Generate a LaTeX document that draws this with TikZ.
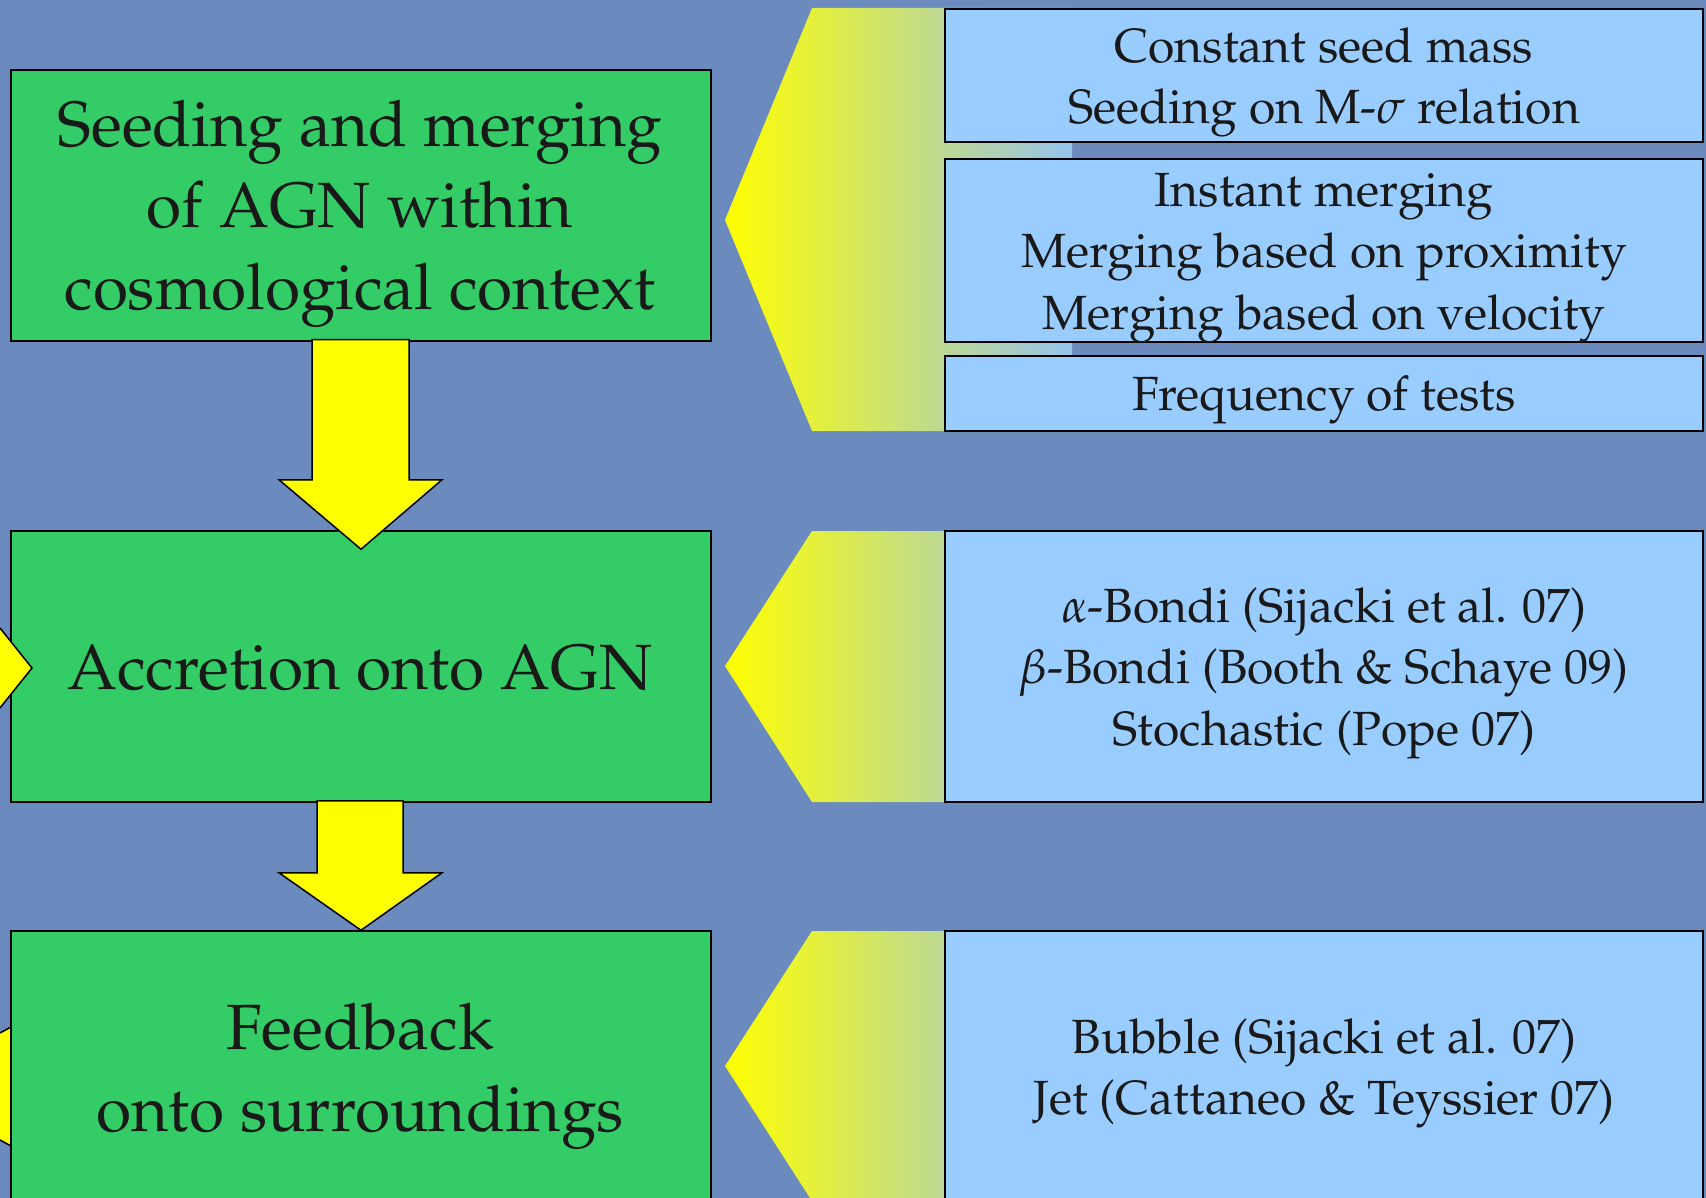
\documentclass[tikz,border=0pt]{standalone}
\usepackage[T1]{fontenc}
\usepackage{mathpazo}
\usetikzlibrary{calc}
\definecolor{bg}{RGB}{107,138,189}
\definecolor{gboxc}{RGB}{51,204,102}
\definecolor{bboxc}{RGB}{153,204,255}
\definecolor{fadeend}{RGB}{150,195,235}
\definecolor{ylw}{RGB}{255,255,0}
\definecolor{ink}{RGB}{25,25,25}
\tikzset{
  greenbox/.style={draw=black, line width=1.5pt, fill=gboxc, minimum width=700pt, minimum height=271pt, inner sep=0pt},
  bluebox/.style={draw=black, line width=1.5pt, fill=bboxc, minimum width=758pt, inner sep=0pt},
  bigline/.style={anchor=base, inner sep=0pt, text=ink, font=\fontsize{64}{82}\selectfont},
  smallline/.style={anchor=base, inner sep=0pt, text=ink, font=\fontsize{48}{61}\selectfont},
  blockarrow/.style={draw=black, line width=1.5pt, fill=ylw, line join=miter},
  fadeshape/.style={left color=ylw, right color=fadeend, draw=none},
}
\begin{document}
\begin{tikzpicture}[x=1pt,y=-1pt]
\clip (0,0) rectangle (1706,1198);
\fill[bg] (0,0) rectangle (1706,1198);

% left sliver behind third box
\draw[blockarrow] (0,1033) -- (11,1027) -- (11,1146) -- (0,1140);

% green boxes
\node[greenbox] (g1) at (361,205.5) {};
\node[greenbox] (g2) at (361,666.5) {};
\node[greenbox] (g3) at (361,1066.5) {};

\node[bigline] (g1a) at (360,147) {Seeding and merging};
\node[bigline] (g1b) at (360,228) {of AGN within};
\node[bigline] (g1c) at (360,310) {cosmological context};
\node[bigline] (g2a) at (360,689) {Accretion onto AGN};
\node[bigline] (g3a) at (360,1049) {Feedback};
\node[bigline] (g3b) at (360,1131) {onto surroundings};

% left sliver on second box
\draw[blockarrow] (0,628) -- (32,668) -- (0,708);

% down block arrows
\draw[blockarrow] ($(g1.south)+(-49,-2)$) -- ($(g1.south)+(48,-2)$) -- ($(g1.south)+(48,138)$)
  -- ($(g1.south)+(81,138)$) -- ($(g2.north)+(0,19)$) -- ($(g1.south)+(-82,138)$)
  -- ($(g1.south)+(-49,138)$) -- cycle;
\draw[blockarrow] ($(g2.south)+(-44,-2)$) -- ($(g2.south)+(42,-2)$) -- ($(g2.south)+(42,70)$)
  -- ($(g2.south)+(81,70)$) -- ($(g3.north)+(0,0)$) -- ($(g2.south)+(-82,70)$)
  -- ($(g2.south)+(-44,70)$) -- cycle;

% fading funnels
\shade[fadeshape] (1072,8) -- (812,8) -- (725,220) -- (812,431) -- (1072,431) -- cycle;
\shade[fadeshape] (1072,531) -- (812,531) -- (725,666) -- (812,802) -- (1072,802) -- cycle;
\shade[fadeshape] (1072,931) -- (812,931) -- (725,1066) -- (812,1201) -- (1072,1201) -- cycle;

% blue boxes
\node[bluebox, minimum height=133pt] (b1) at (1324,75.5) {};
\node[bluebox, minimum height=183pt] (b2) at (1324,250.5) {};
\node[bluebox, minimum height=75pt] (b3) at (1324,393.5) {};
\node[bluebox, minimum height=271pt] (b4) at (1324,666.5) {};
\node[bluebox, minimum height=271pt] (b5) at (1324,1066.5) {};

\node[smallline] (b1a) at (1324,62.3) {Constant seed mass};
\node[smallline] (b1b) at (1324,123.3) {Seeding on M-$\sigma$ relation};
\node[smallline] (b2a) at (1324,206.7) {Instant merging};
\node[smallline] (b2b) at (1324,267.7) {Merging based on proximity};
\node[smallline] (b2c) at (1324,329.3) {Merging based on velocity};
\node[smallline] (b3a) at (1324,410.7) {Frequency of tests};
\node[smallline] (b4a) at (1324,622.3) {$\alpha$-Bondi (Sijacki et al. 07)};
\node[smallline] (b4b) at (1324,683.3) {$\beta$-Bondi (Booth \& Schaye 09)};
\node[smallline] (b4c) at (1324,745) {Stochastic (Pope 07)};
\node[smallline] (b5a) at (1324,1053.5) {Bubble (Sijacki et al. 07)};
\node[smallline] (b5b) at (1324,1114.5) {Jet (Cattaneo \& Teyssier 07)};
\end{tikzpicture}
\end{document}
